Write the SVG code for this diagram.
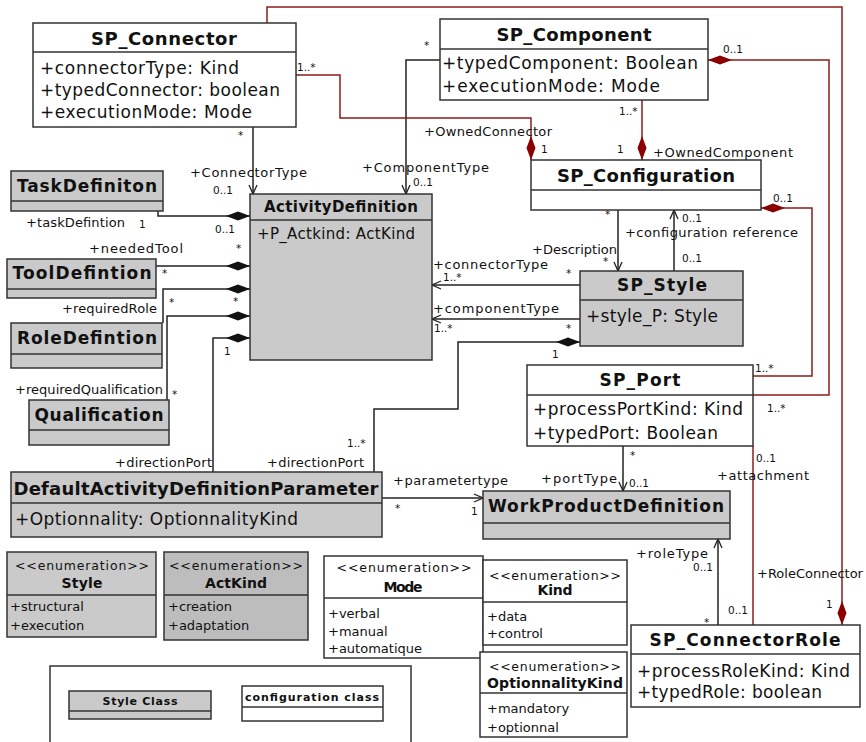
<svg xmlns="http://www.w3.org/2000/svg" width="866" height="742" viewBox="0 0 866 742">
<defs>
<style>
.bx{stroke:#333;stroke-width:1.5}
.w{fill:#fff}
.g{fill:#cacaca}
.g2{fill:#bdbdbd}
.dv{stroke:#333;stroke-width:1.5}
text{font-family:'DejaVu Sans',Verdana,sans-serif;fill:#111;dominant-baseline:central}
.ttl{font-weight:bold;text-anchor:middle}
.at{font-size:17px}
.lb{font-size:13px}
.m{font-size:10.5px}
.en{font-size:13px}
.ec{font-size:12.5px;text-anchor:middle}
.eb{font-size:14px;font-weight:bold;text-anchor:middle}
.ln{fill:none;stroke:#222;stroke-width:1.5}
.rl{fill:none;stroke:#8b1c1c;stroke-width:1.5}
</style>
<marker id="oa" viewBox="0 0 10 10" refX="10" refY="5" markerWidth="10" markerHeight="10" markerUnits="userSpaceOnUse" orient="auto"><path d="M1,1 L10,5 L1,9" fill="none" stroke="#222" stroke-width="1.3"/></marker>
<marker id="bd" viewBox="0 0 24 10" refX="24" refY="5" markerWidth="24" markerHeight="10" markerUnits="userSpaceOnUse" orient="auto"><path d="M0,5 L12,0.5 L24,5 L12,9.5 z" fill="#111"/></marker>
<marker id="rd" viewBox="0 0 24 10" refX="24" refY="5" markerWidth="24" markerHeight="10" markerUnits="userSpaceOnUse" orient="auto"><path d="M0,5 L12,0.5 L24,5 L12,9.5 z" fill="#8b0000"/></marker>
</defs>
<rect width="866" height="742" fill="#fff"/>

<g id="connectors">
<polyline class="ln" points="253,127 253,194" marker-end="url(#oa)"/>
<polyline class="ln" points="440,60 406,60 406,194" marker-end="url(#oa)"/>
<polyline class="rl" points="296,75 340,75 340,118 531,118 531,160" marker-end="url(#rd)"/>
<polyline class="rl" points="642,100 642,160" marker-end="url(#rd)"/>
<polyline class="rl" points="753,395 829,395 829,60 708,60" marker-end="url(#rd)"/>
<polyline class="rl" points="753,376 812,376 812,208 761,208" marker-end="url(#rd)"/>
<polyline class="rl" points="267,23 267,7 842,7 842,625" marker-end="url(#rd)"/>
<polyline class="ln" points="618,210 618,271" marker-end="url(#oa)"/>
<polyline class="ln" points="674,271 674,210" marker-end="url(#oa)"/>
<polyline class="ln" points="580,285 432,285" marker-end="url(#oa)"/>
<polyline class="ln" points="580,319 432,319" marker-end="url(#oa)"/>
<polyline class="ln" points="374,472 374,409 458,409 458,342 580,342" marker-end="url(#bd)"/>
<polyline class="ln" points="158,211 158,216 250,216" marker-end="url(#bd)"/>
<polyline class="ln" points="156,266 250,266" marker-end="url(#bd)"/>
<polyline class="ln" points="163,323 163,289 250,289" marker-end="url(#bd)"/>
<polyline class="ln" points="167,400 167,316 250,316" marker-end="url(#bd)"/>
<polyline class="ln" points="213,472 213,338 250,338" marker-end="url(#bd)"/>
<polyline class="ln" points="382,498 483,498" marker-end="url(#oa)"/>
<polyline class="ln" points="623,446 623,491" marker-end="url(#oa)"/>
<polyline class="ln" points="718,625 718,539" marker-end="url(#oa)"/>
<polyline class="rl" points="753,446 753,625"/>

<text class="m" x="297" y="67">1..*</text>
<text class="m" x="238" y="135">*</text>
<text class="lb" x="190" y="172" textLength="117">+ConnectorType</text>
<text class="m" x="213" y="190">0..1</text>
<text class="m" x="424" y="45">*</text>
<text class="lb" x="362" y="167" textLength="127">+ComponentType</text>
<text class="m" x="413" y="182">0..1</text>
<text class="lb" x="424" y="131" textLength="128">+OwnedConnector</text>
<text class="m" x="541" y="149">1</text>
<text class="m" x="619" y="111">1..*</text>
<text class="m" x="617" y="149">1</text>
<text class="lb" x="653" y="152" textLength="140">+OwnedComponent</text>
<text class="m" x="723" y="49">0..1</text>
<text class="m" x="773" y="198">0..1</text>
<text class="m" x="605" y="214">*</text>
<text class="m" x="682" y="218">0..1</text>
<text class="lb" x="625" y="232" textLength="173">+configuration reference</text>
<text class="lb" x="532" y="249" textLength="85">+Description</text>
<text class="m" x="603" y="261">*</text>
<text class="m" x="682" y="258">0..1</text>
<text class="lb" x="433" y="264" textLength="115">+connectorType</text>
<text class="m" x="443" y="277">1..*</text>
<text class="m" x="566" y="273">*</text>
<text class="lb" x="433" y="308" textLength="126">+componentType</text>
<text class="m" x="434" y="328">1..*</text>
<text class="m" x="566" y="328">*</text>
<text class="m" x="552" y="354">1</text>
<text class="m" x="755" y="368">1..*</text>
<text class="m" x="767" y="408">1..*</text>
<text class="lb" x="26" y="222" textLength="99">+taskDefintion</text>
<text class="m" x="139" y="224">1</text>
<text class="m" x="215" y="229">0..1</text>
<text class="lb" x="89" y="248" textLength="94">+neededTool</text>
<text class="m" x="162" y="273">*</text>
<text class="m" x="236" y="248">*</text>
<text class="lb" x="62" y="308" textLength="95">+requiredRole</text>
<text class="m" x="169" y="302">*</text>
<text class="m" x="233" y="301">*</text>
<text class="lb" x="15" y="389" textLength="148">+requiredQualification</text>
<text class="m" x="172" y="394">*</text>
<text class="m" x="224" y="351">1</text>
<text class="lb" x="115" y="462" textLength="97">+directionPort</text>
<text class="m" x="347" y="443">1..*</text>
<text class="lb" x="267" y="462" textLength="97">+directionPort</text>
<text class="lb" x="393" y="480" textLength="115">+parametertype</text>
<text class="m" x="395" y="508">*</text>
<text class="m" x="471" y="511">1</text>
<text class="m" x="630" y="455">*</text>
<text class="lb" x="541" y="478" textLength="76">+portType</text>
<text class="m" x="629" y="483">0..1</text>
<text class="m" x="756" y="458">0..1</text>
<text class="lb" x="717" y="475" textLength="92">+attachment</text>
<text class="lb" x="636" y="553" textLength="72">+roleType</text>
<text class="m" x="693" y="567">0..1</text>
<text class="lb" x="757" y="573">+RoleConnector</text>
<text class="m" x="728" y="610">0..1</text>
<text class="m" x="704" y="622">*</text>
<text class="m" x="826" y="604">1</text>
</g>

<g id="SP_Connector">
<rect class="bx w" x="33" y="23" width="263" height="104"/>
<line class="dv" x1="33" y1="52" x2="296" y2="52"/>
<text class="ttl" x="164" y="38" font-size="18" textLength="146">SP_Connector</text>
<text class="at" x="40" y="68" textLength="199">+connectorType: Kind</text>
<text class="at" x="40" y="90" textLength="240">+typedConnector: boolean</text>
<text class="at" x="40" y="112" textLength="212">+executionMode: Mode</text>
</g>

<g id="SP_Component">
<rect class="bx w" x="440" y="19" width="268" height="81"/>
<line class="dv" x1="440" y1="49" x2="708" y2="49"/>
<text class="ttl" x="574" y="34" font-size="18" textLength="155">SP_Component</text>
<text class="at" x="442" y="63" textLength="256">+typedComponent: Boolean</text>
<text class="at" x="442" y="86" textLength="218">+executionMode: Mode</text>
</g>

<g id="SP_Configuration">
<rect class="bx w" x="531" y="160" width="230" height="50"/>
<line class="dv" x1="531" y1="190" x2="761" y2="190"/>
<text class="ttl" x="646" y="175" font-size="18" textLength="178">SP_Configuration</text>
</g>

<g id="ActivityDefinition">
<rect class="bx g" x="250" y="194" width="182" height="166"/>
<line class="dv" x1="250" y1="220" x2="432" y2="220"/>
<text class="ttl" x="341" y="207" font-size="15" textLength="154">ActivityDefinition</text>
<text x="257" y="234" font-size="15" textLength="158">+P_Actkind: ActKind</text>
</g>

<g id="SP_Style">
<rect class="bx g" x="580" y="271" width="163" height="75"/>
<line class="dv" x1="580" y1="300" x2="743" y2="300"/>
<text class="ttl" x="662" y="285" font-size="17" textLength="90">SP_Style</text>
<text class="at" x="586" y="316" textLength="132">+style_P: Style</text>
</g>

<g id="SP_Port">
<rect class="bx w" x="527" y="365" width="226" height="81"/>
<line class="dv" x1="527" y1="395" x2="753" y2="395"/>
<text class="ttl" x="640" y="380" font-size="17" textLength="81">SP_Port</text>
<text class="at" x="533" y="409" textLength="210">+processPortKind: Kind</text>
<text class="at" x="533" y="433" textLength="185">+typedPort: Boolean</text>
</g>

<g id="SP_ConnectorRole">
<rect class="bx w" x="631" y="625" width="229" height="82"/>
<line class="dv" x1="631" y1="654" x2="860" y2="654"/>
<text class="ttl" x="745" y="640" font-size="17" textLength="191">SP_ConnectorRole</text>
<text class="at" x="637" y="671" textLength="213">+processRoleKind: Kind</text>
<text class="at" x="637" y="692" textLength="185">+typedRole: boolean</text>
</g>

<g id="TaskDefiniton">
<rect class="bx g" x="11" y="171" width="152" height="40"/>
<line class="dv" x1="11" y1="201" x2="163" y2="201"/>
<text class="ttl" x="87" y="186" font-size="17" textLength="140">TaskDefiniton</text>
</g>

<g id="ToolDefintion">
<rect class="bx g" x="7" y="259" width="149" height="39"/>
<line class="dv" x1="7" y1="289" x2="156" y2="289"/>
<text class="ttl" x="82" y="273" font-size="17" textLength="139">ToolDefintion</text>
</g>

<g id="RoleDefintion">
<rect class="bx g" x="11" y="323" width="151" height="45"/>
<line class="dv" x1="11" y1="354" x2="162" y2="354"/>
<text class="ttl" x="87" y="338" font-size="17" textLength="140">RoleDefintion</text>
</g>

<g id="Qualification">
<rect class="bx g" x="29" y="400" width="140" height="45"/>
<line class="dv" x1="29" y1="430" x2="169" y2="430"/>
<text class="ttl" x="99" y="415" font-size="17" textLength="129">Qualification</text>
</g>

<g id="DefaultActivityDefinitionParameter">
<rect class="bx g" x="11" y="472" width="371" height="65"/>
<line class="dv" x1="11" y1="503" x2="382" y2="503"/>
<text class="ttl" x="196" y="488" font-size="18" textLength="365">DefaultActivityDefinitionParameter</text>
<text class="at" x="15" y="519" textLength="283">+Optionnality: OptionnalityKind</text>
</g>

<g id="WorkProductDefinition">
<rect class="bx g" x="483" y="491" width="247" height="48"/>
<line class="dv" x1="483" y1="523" x2="730" y2="523"/>
<text class="ttl" x="606" y="506" font-size="17" textLength="236">WorkProductDefinition</text>
</g>

<g id="Style">
<rect class="bx g" x="7" y="552" width="149" height="85"/>
<line class="dv" x1="7" y1="595" x2="156" y2="595"/>
<text class="ec" x="82" y="565" textLength="134">&lt;&lt;enumeration&gt;&gt;</text>
<text class="eb" x="82" y="583" textLength="41">Style</text>
<text class="en" x="10" y="606">+structural</text>
<text class="en" x="10" y="625">+execution</text>
</g>

<g id="ActKind">
<rect class="bx g2" x="164" y="552" width="144" height="88"/>
<line class="dv" x1="164" y1="595" x2="308" y2="595"/>
<text class="ec" x="236" y="565" textLength="134">&lt;&lt;enumeration&gt;&gt;</text>
<text class="eb" x="236" y="583" textLength="62">ActKind</text>
<text class="en" x="168" y="606">+creation</text>
<text class="en" x="168" y="625">+adaptation</text>
</g>

<g id="Mode">
<rect class="bx w" x="324" y="556" width="159" height="102"/>
<line class="dv" x1="324" y1="598" x2="483" y2="598"/>
<text class="ec" x="404" y="567" textLength="135">&lt;&lt;enumeration&gt;&gt;</text>
<text class="eb" x="403" y="587" textLength="39">Mode</text>
<text class="en" x="328" y="613">+verbal</text>
<text class="en" x="328" y="631">+manual</text>
<text class="en" x="328" y="648">+automatique</text>
</g>

<g id="Kind">
<rect class="bx w" x="483" y="560" width="144" height="85"/>
<line class="dv" x1="483" y1="602" x2="627" y2="602"/>
<text class="ec" x="555" y="575" textLength="132">&lt;&lt;enumeration&gt;&gt;</text>
<text class="eb" x="555" y="590" textLength="35">Kind</text>
<text class="en" x="487" y="616">+data</text>
<text class="en" x="487" y="633">+control</text>
</g>

<g id="OptionnalityKind">
<rect class="bx w" x="480" y="652" width="147" height="85"/>
<line class="dv" x1="480" y1="693" x2="627" y2="693"/>
<text class="ec" x="555" y="666" textLength="132">&lt;&lt;enumeration&gt;&gt;</text>
<text class="eb" x="555" y="683" textLength="136">OptionnalityKind</text>
<text class="en" x="487" y="708">+mandatory</text>
<text class="en" x="487" y="727">+optionnal</text>
</g>

<g id="Legend">
<rect class="bx w" x="50" y="666" width="361" height="90"/>
<g id="StyleClass">
<rect class="bx g" x="69" y="691" width="142" height="28"/>
<line class="dv" x1="69" y1="711" x2="211" y2="711"/>
<text class="ttl" x="140" y="701" font-size="11" textLength="75">Style Class</text>
</g>
<g id="ConfigurationClass">
<rect class="bx w" x="242" y="686" width="141" height="35"/>
<line class="dv" x1="242" y1="707" x2="383" y2="707"/>
<text class="ttl" x="312" y="697" font-size="11" textLength="134">configuration class</text>
</g>
</g>
</svg>
